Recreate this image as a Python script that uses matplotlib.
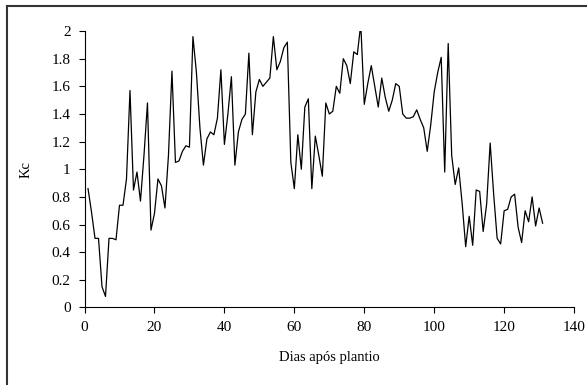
import matplotlib
matplotlib.use("Agg")
import matplotlib.pyplot as plt
from matplotlib.lines import Line2D

days = list(range(1, 132))
kc = [0.86, 0.69, 0.50, 0.50, 0.15, 0.08, 0.50, 0.50, 0.49, 0.74,
      0.74, 0.93, 1.57, 0.85, 0.98, 0.77, 1.10, 1.48, 0.56, 0.68,
      0.93, 0.88, 0.72, 1.10, 1.71, 1.05, 1.06, 1.13, 1.17, 1.16,
      1.96, 1.70, 1.30, 1.03, 1.22, 1.27, 1.25, 1.37, 1.72, 1.18,
      1.40, 1.67, 1.03, 1.27, 1.36, 1.40, 1.84, 1.25, 1.56, 1.65,
      1.60, 1.63, 1.66, 1.96, 1.72, 1.78, 1.88, 1.92, 1.05, 0.86,
      1.25, 1.00, 1.45, 1.51, 0.86, 1.24, 1.10, 0.95, 1.48, 1.40,
      1.42, 1.60, 1.55, 1.80, 1.75, 1.62, 1.85, 1.83, 2.05, 1.47,
      1.62, 1.75, 1.60, 1.45, 1.66, 1.52, 1.42, 1.50, 1.62, 1.60,
      1.40, 1.37, 1.37, 1.38, 1.43, 1.36, 1.30, 1.13, 1.32, 1.56,
      1.70, 1.81, 0.98, 1.91, 1.10, 0.89, 1.01, 0.75, 0.44, 0.66,
      0.45, 0.85, 0.84, 0.55, 0.75, 1.19, 0.82, 0.50, 0.46, 0.70,
      0.71, 0.80, 0.82, 0.58, 0.47, 0.70, 0.62, 0.80, 0.59, 0.72,
      0.61]

xticks = [0, 20, 40, 60, 80, 100, 120, 140]
yticks = [0, 0.2, 0.4, 0.6, 0.8, 1.0, 1.2, 1.4, 1.6, 1.8, 2.0]
ytick_labels = ["0", "0.2", "0.4", "0.6", "0.8", "1", "1.2", "1.4", "1.6", "1.8", "2"]

plt.rcParams['font.family'] = ['Liberation Serif', 'DejaVu Serif']

fig = plt.figure(figsize=(5.87, 3.85), dpi=100)
ax = fig.add_axes([0.144, 0.2013, 0.834, 0.718])

ax.plot(days, kc, color='black', linewidth=0.9, solid_joinstyle='round')
ax.set_xlim(0, 140)
ax.set_ylim(0, 2)
ax.set_xticks(xticks)
ax.set_xticklabels([str(t) for t in xticks])
ax.set_yticks(yticks)
ax.set_yticklabels(ytick_labels)

for s in ['top', 'right']:
    ax.spines[s].set_visible(False)
for s in ['left', 'bottom']:
    ax.spines[s].set_linewidth(0.8)

ax.tick_params(axis='both', direction='out', length=4, width=0.8,
               labelsize=11, colors='black', pad=6)
ax.set_xlabel("Dias após plantio", fontsize=10.5, labelpad=12)
ax.set_ylabel("Kc", fontsize=10.5, labelpad=14)

fig.add_artist(Line2D([0.012, 0.012], [0.0, 0.984], transform=fig.transFigure,
                      color='#333333', linewidth=1.5))
fig.add_artist(Line2D([0.012, 1.0], [0.984, 0.984], transform=fig.transFigure,
                      color='#333333', linewidth=1.5))

fig.savefig("out.png", dpi=100)
